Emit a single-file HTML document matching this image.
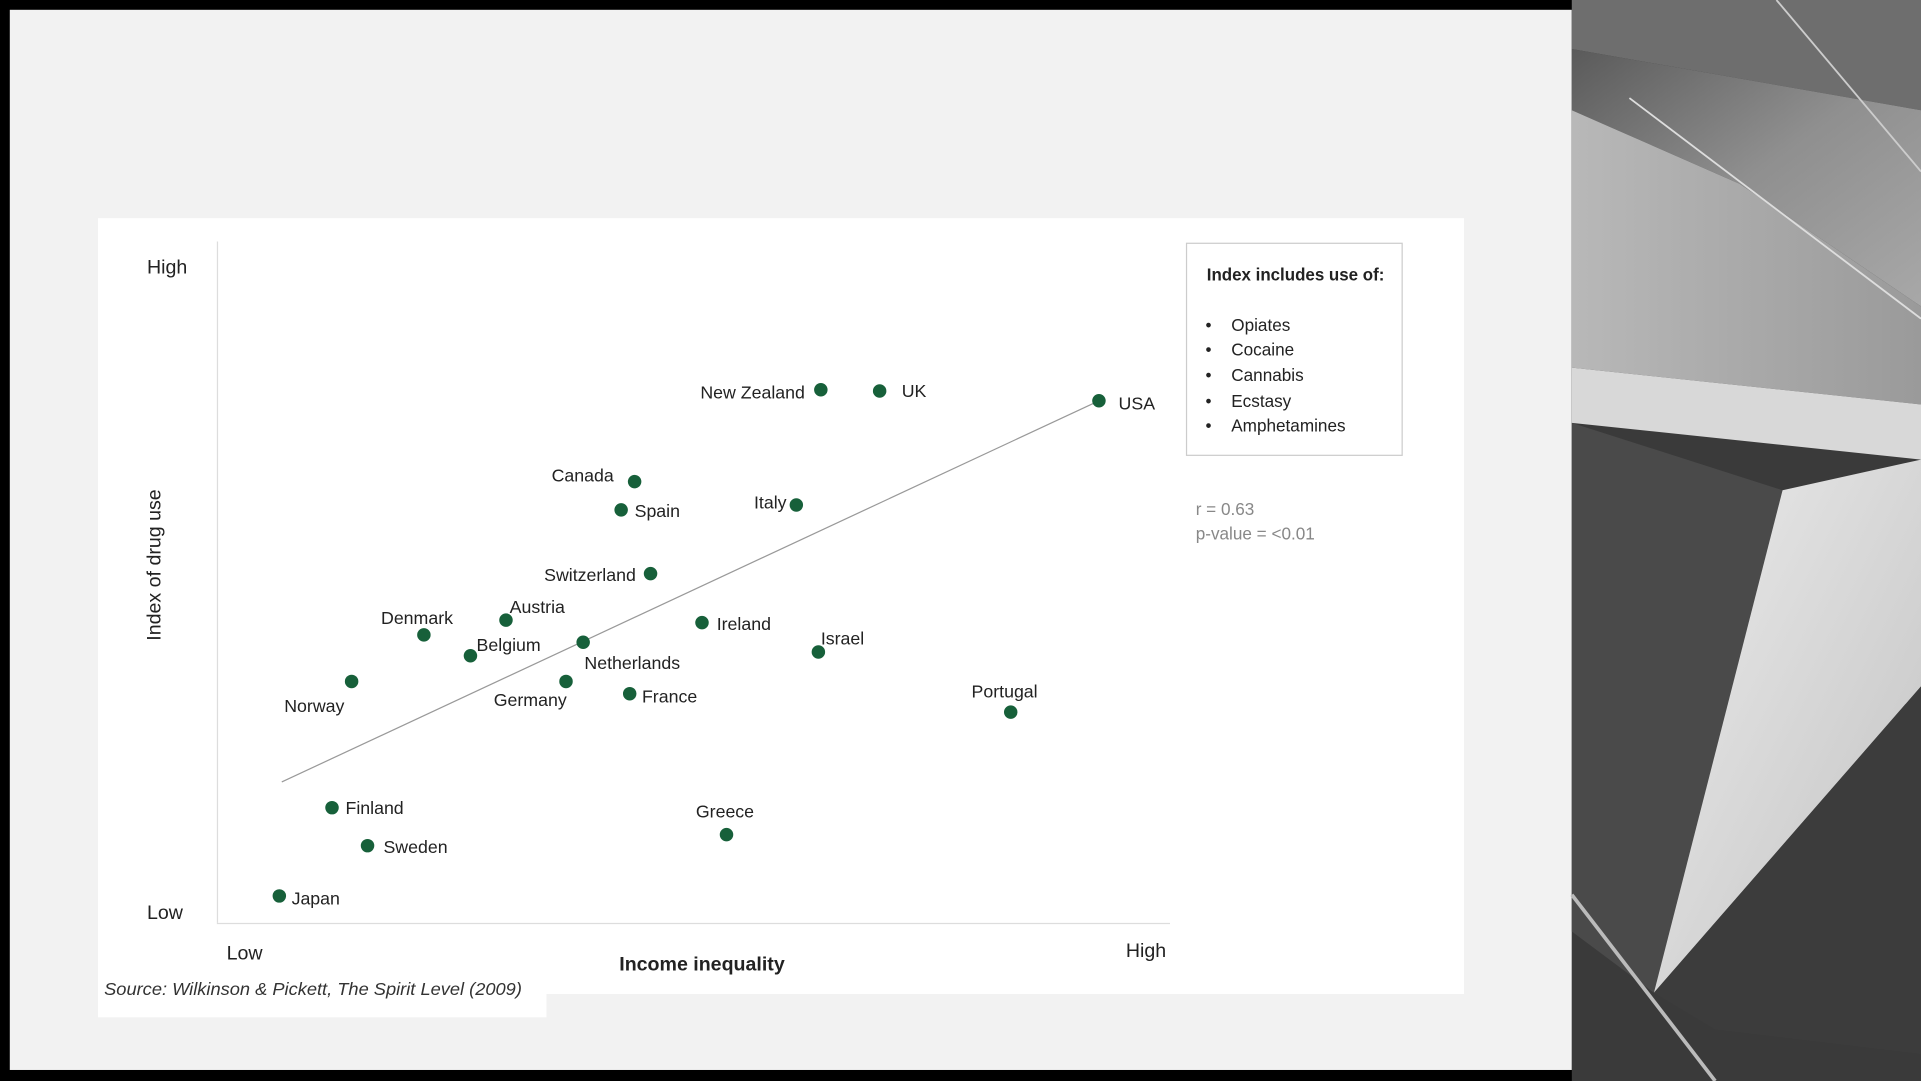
<!DOCTYPE html>
<html><head><meta charset="utf-8"><style>
html,body{margin:0;padding:0;background:#000;width:1921px;height:1081px;overflow:hidden}
svg{display:block}
text{font-family:"Liberation Sans",sans-serif;fill:#222}
</style></head><body>
<svg width="1921" height="1081" viewBox="0 0 1568 882" preserveAspectRatio="none">
<defs>
<linearGradient id="g1" x1="0" y1="0" x2="1" y2="1"><stop offset="0" stop-color="#5a5a5a"/><stop offset="0.5" stop-color="#8f8f8f"/><stop offset="1" stop-color="#a8a8a8"/></linearGradient>
<linearGradient id="g2" x1="0" y1="0" x2="1" y2="0"><stop offset="0" stop-color="#b8b8b8"/><stop offset="1" stop-color="#9a9a9a"/></linearGradient>
<linearGradient id="g3" x1="0" y1="0" x2="1" y2="1"><stop offset="0" stop-color="#ececec"/><stop offset="1" stop-color="#c2c2c2"/></linearGradient>
</defs>
<rect width="1568" height="882" fill="#000"/>
<rect x="8" y="8" width="1275" height="865" fill="#f2f2f2"/>
<!-- photo -->
<rect x="1283" y="0" width="285" height="882" fill="#3a3a3a"/>
<polygon points="1283,0 1568,0 1568,90 1283,40" fill="#6e6e6e"/>
<polygon points="1283,40 1568,90 1568,250 1420,150 1283,90" fill="url(#g1)"/>
<polygon points="1283,90 1420,150 1568,250 1568,330 1283,300" fill="url(#g2)"/>
<polygon points="1283,300 1568,330 1568,375 1283,345" fill="#d8d8d8"/>
<polygon points="1283,345 1455,400 1350,810 1283,760" fill="#4a4a4a"/>
<polygon points="1455,400 1568,375 1568,560 1350,810" fill="url(#g3)"/>
<polygon points="1350,810 1568,560 1568,860 1400,840" fill="#3c3c3c"/>
<line x1="1283" y1="730" x2="1400" y2="882" stroke="#bbb" stroke-width="3"/>
<line x1="1450" y1="0" x2="1568" y2="140" stroke="#ccc" stroke-width="1.5"/>
<line x1="1330" y1="80" x2="1568" y2="260" stroke="#ddd" stroke-width="1.5"/>
<!-- chart panel -->
<rect x="80" y="178" width="1115" height="633" fill="#fff"/>
<rect x="80" y="811" width="366" height="19" fill="#fff"/>
<line x1="177.5" y1="197" x2="177.5" y2="753" stroke="#ddd" stroke-width="1"/>
<line x1="177" y1="753.5" x2="955" y2="753.5" stroke="#ddd" stroke-width="1"/>
<line x1="230" y1="638" x2="897" y2="327" stroke="#999" stroke-width="1"/>
<g fill="#17603a">
<circle cx="670" cy="318" r="5.5"/><circle cx="718" cy="319" r="5.5"/><circle cx="897" cy="327" r="5.5"/>
<circle cx="518" cy="393" r="5.5"/><circle cx="507" cy="416" r="5.5"/><circle cx="650" cy="412" r="5.5"/>
<circle cx="531" cy="468" r="5.5"/><circle cx="573" cy="508" r="5.5"/><circle cx="668" cy="532" r="5.5"/>
<circle cx="413" cy="506" r="5.5"/><circle cx="346" cy="518" r="5.5"/><circle cx="384" cy="535" r="5.5"/>
<circle cx="476" cy="524" r="5.5"/><circle cx="287" cy="556" r="5.5"/><circle cx="462" cy="556" r="5.5"/>
<circle cx="514" cy="566" r="5.5"/><circle cx="825" cy="581" r="5.5"/><circle cx="271" cy="659" r="5.5"/>
<circle cx="300" cy="690" r="5.5"/><circle cx="593" cy="681" r="5.5"/><circle cx="228" cy="731" r="5.5"/>
</g>
<g font-size="14.5">
<text x="657" y="325" text-anchor="end">New Zealand</text>
<text x="736" y="324">UK</text>
<text x="913" y="334">USA</text>
<text x="501" y="393" text-anchor="end">Canada</text>
<text x="518" y="422">Spain</text>
<text x="642" y="415" text-anchor="end">Italy</text>
<text x="519" y="474" text-anchor="end">Switzerland</text>
<text x="585" y="514">Ireland</text>
<text x="670" y="526">Israel</text>
<text x="416" y="500">Austria</text>
<text x="311" y="509">Denmark</text>
<text x="389" y="531">Belgium</text>
<text x="477" y="546">Netherlands</text>
<text x="232" y="581">Norway</text>
<text x="403" y="576">Germany</text>
<text x="524" y="573">France</text>
<text x="793" y="569">Portugal</text>
<text x="282" y="664">Finland</text>
<text x="313" y="696">Sweden</text>
<text x="568" y="667">Greece</text>
<text x="238" y="738">Japan</text>
<text x="120" y="223" font-size="16">High</text>
<text x="120" y="750" font-size="16">Low</text>
<text x="185" y="783" font-size="16">Low</text>
<text x="919" y="781" font-size="16">High</text>
<text x="573" y="792" font-size="16" text-anchor="middle" font-weight="bold" fill="#333">Income inequality</text>
<text transform="translate(131,461) rotate(-90)" font-size="16" text-anchor="middle">Index of drug use</text>
</g>
<rect x="968.5" y="198.5" width="176" height="173" fill="#fff" stroke="#ccc"/>
<g font-size="14">
<text x="985" y="229" font-weight="bold" textLength="145" lengthAdjust="spacingAndGlyphs">Index includes use of:</text>
<text x="984" y="270">•</text><text x="1005" y="270">Opiates</text>
<text x="984" y="290">•</text><text x="1005" y="290">Cocaine</text>
<text x="984" y="311">•</text><text x="1005" y="311">Cannabis</text>
<text x="984" y="332">•</text><text x="1005" y="332">Ecstasy</text>
<text x="984" y="352">•</text><text x="1005" y="352">Amphetamines</text>
</g>
<text x="976" y="420" font-size="14" style="fill:#888">r = 0.63</text>
<text x="976" y="440" font-size="14" style="fill:#888">p-value = &lt;0.01</text>
<text x="85" y="812" font-size="14.5" font-style="italic" style="fill:#333" textLength="341" lengthAdjust="spacingAndGlyphs">Source: Wilkinson &amp; Pickett, The Spirit Level (2009)</text>
</svg>
</body></html>
